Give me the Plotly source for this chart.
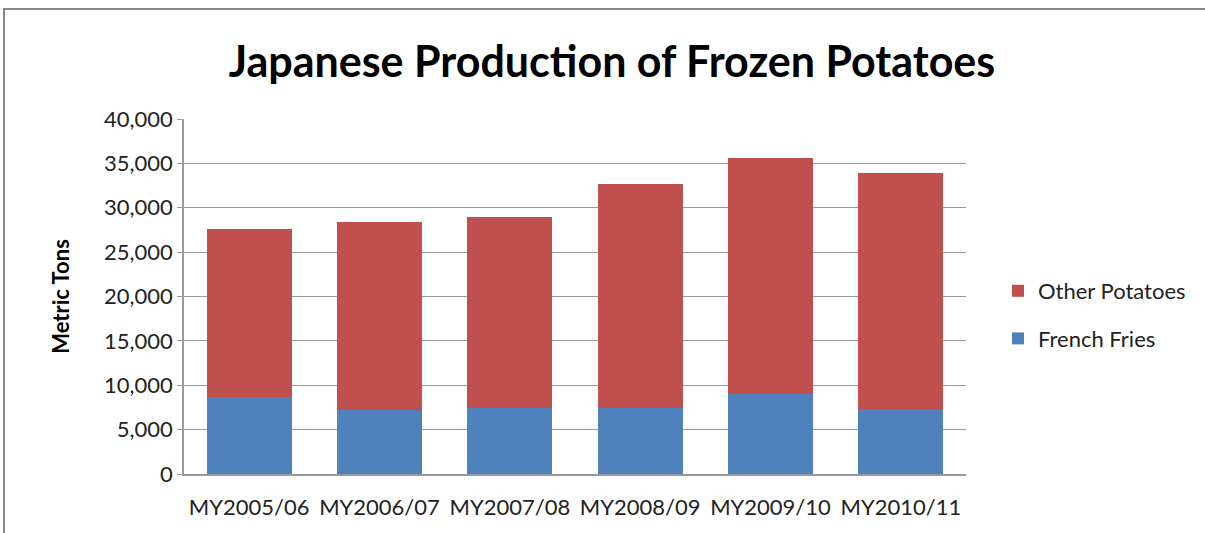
import plotly.graph_objects as go

categories = ["MY2005/06", "MY2006/07", "MY2007/08", "MY2008/09", "MY2009/10", "MY2010/11"]
french_fries = [8650, 7220, 7490, 7490, 9070, 7330]
other_potatoes = [18910, 21170, 21460, 25150, 26490, 26570]
y_ticks = [0, 5000, 10000, 15000, 20000, 25000, 30000, 35000, 40000]

FONT = "Lato, 'Open Sans', sans-serif"

fig = go.Figure()
fig.add_trace(go.Bar(x=categories, y=french_fries, name="French Fries", legendgroup="ff",
                     legendrank=2, marker=dict(color="#4F81BD", line=dict(width=0))))
fig.add_trace(go.Bar(x=categories, y=other_potatoes, name="Other Potatoes", legendgroup="op",
                     legendrank=1, marker=dict(color="#C0504D", line=dict(width=0))))

L, R, T, B = 184, 239, 119, 59
W, H = 1205, 533
pw, ph = W - L - R, H - T - B

fig.update_layout(
    width=W, height=H,
    barmode="stack", bargap=0.35,
    paper_bgcolor="white", plot_bgcolor="white",
    margin=dict(l=L, r=R, t=T, b=B),
    font=dict(family=FONT, color="#000000", size=22),
    title=dict(text="<b>Japanese Production of Frozen Potatoes</b>",
               x=(612) / W, xanchor="center", y=1 - 62 / H, yanchor="middle",
               font=dict(size=43, family=FONT, color="#000000")),
    legend=dict(traceorder="grouped", x=(998 - L) / pw, xanchor="left",
                y=(474 - 315) / ph, yanchor="middle",
                font=dict(size=22, family=FONT, color="#222222"),
                itemwidth=30, tracegroupgap=16, bgcolor="rgba(0,0,0,0)"),
    xaxis=dict(showline=True, linecolor="#999999", linewidth=1.5,
               ticks="outside", ticklen=13, tickcolor="rgba(0,0,0,0)",
               tickfont=dict(size=22, family=FONT, color="#222222"),
               fixedrange=True),
    yaxis=dict(range=[0, 40000], tickvals=y_ticks, tickformat=",",
               showgrid=True, gridcolor="#999999", gridwidth=1.2,
               showline=True, linecolor="#999999", linewidth=1.5,
               ticks="outside", ticklen=5, tickcolor="#999999",
               tickfont=dict(size=22, family=FONT, color="#222222"),
               title=dict(text="<b>Metric Tons</b>", font=dict(size=22, family=FONT), standoff=28),
               zeroline=False),
)

# outer chart border
fig.add_shape(type="rect", xref="paper", yref="paper",
              x0=(4 - L) / pw, x1=(W + 10 - L) / pw,
              y0=(474 - (H + 10)) / ph, y1=(474 - 9) / ph,
              line=dict(color="#888888", width=2), fillcolor="rgba(0,0,0,0)", layer="below")

fig.write_html("out.html")
